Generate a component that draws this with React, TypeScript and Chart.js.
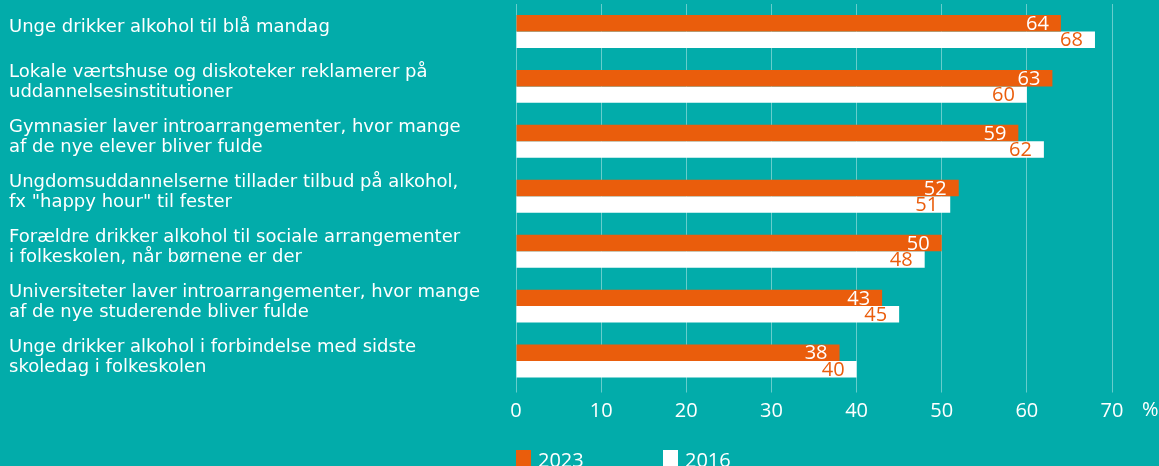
import React, { useEffect, useRef } from 'react';
import { Chart, registerables } from 'chart.js';

Chart.register(...registerables);

const categories: (string | string[])[] = [
  'Unge drikker alkohol til blå mandag',
  ['Lokale værtshuse og diskoteker reklamerer på', 'uddannelsesinstitutioner'],
  ['Gymnasier laver introarrangementer, hvor mange', 'af de nye elever bliver fulde'],
  ['Ungdomsuddannelserne tillader tilbud på alkohol,', 'fx "happy hour" til fester'],
  ['Forældre drikker alkohol til sociale arrangementer', 'i folkeskolen, når børnene er der'],
  ['Universiteter laver introarrangementer, hvor mange', 'af de nye studerende bliver fulde'],
  ['Unge drikker alkohol i forbindelse med sidste', 'skoledag i folkeskolen'],
];
const values2023 = [64, 63, 59, 52, 50, 43, 38];
const values2016 = [68, 60, 62, 51, 48, 45, 40];
const seriesLabels = ['2023', '2016'];
const xMin = 0;
const xMax = 70;
const xStep = 10;
const unitLabel = '%';

const TEAL = '#02ACAA';
const ORANGE = '#EA5D0C';
const WHITE = '#FFFFFF';
const LABEL_FONT = '"DejaVu Sans", sans-serif';
const NUM_FONT = '"Open Sans", sans-serif';

const valueLabels = {
  id: 'valueLabels',
  afterDatasetsDraw(chart: any) {
    const ctx = chart.ctx;
    chart.data.datasets.forEach((ds: any, i: number) => {
      const meta = chart.getDatasetMeta(i);
      meta.data.forEach((bar: any, j: number) => {
        ctx.save();
        ctx.font = `20px ${NUM_FONT}`;
        ctx.fillStyle = i === 0 ? WHITE : ORANGE;
        ctx.textAlign = 'right';
        ctx.textBaseline = 'middle';
        ctx.fillText(String(ds.data[j]), bar.x - 12, bar.y + 1);
        ctx.restore();
      });
    });
  },
};

const extras = {
  id: 'extras',
  beforeDraw(chart: any) {
    const ctx = chart.ctx;
    ctx.save();
    ctx.fillStyle = TEAL;
    ctx.fillRect(0, 0, chart.width, chart.height);
    ctx.restore();
  },
  afterDraw(chart: any) {
    const ctx = chart.ctx;
    const xs = chart.scales.x;
    ctx.save();
    ctx.font = `20px ${NUM_FONT}`;
    ctx.fillStyle = WHITE;
    ctx.textBaseline = 'middle';
    ctx.textAlign = 'left';
    ctx.fillText(unitLabel, xs.getPixelForValue(xMax) + 30, xs.top + 22);
    // legend
    const left = chart.chartArea.left;
    const gap = 147;
    chart.data.datasets.forEach((ds: any, i: number) => {
      const x = left + i * gap;
      ctx.fillStyle = ds.backgroundColor;
      ctx.fillRect(x, 450, 15, 16);
      ctx.fillStyle = WHITE;
      ctx.textBaseline = 'alphabetic';
      ctx.fillText(ds.label, x + 22, 467);
    });
    ctx.restore();
  },
};

export default function App() {
  const ref = useRef<HTMLCanvasElement>(null);
  useEffect(() => {
    if (!ref.current) return;
    const chart = new Chart(ref.current, {
      type: 'bar',
      data: {
        labels: categories as any,
        datasets: [
          { label: seriesLabels[0], data: values2023, backgroundColor: ORANGE, categoryPercentage: 0.6, barPercentage: 1 },
          { label: seriesLabels[1], data: values2016, backgroundColor: WHITE, categoryPercentage: 0.6, barPercentage: 1 },
        ],
      },
      options: {
        indexAxis: 'y',
        animation: false,
        responsive: true,
        maintainAspectRatio: false,
        layout: { padding: { left: 9, right: 47, top: 4, bottom: 44 } },
        plugins: { legend: { display: false }, tooltip: { enabled: false } },
        scales: {
          x: {
            min: xMin,
            max: xMax,
            afterFit(scale: any) { scale.height = 33.5; },
            ticks: { stepSize: xStep, color: WHITE, font: { family: NUM_FONT, size: 20 }, padding: 7 },
            grid: { color: 'rgba(255,255,255,0.4)', lineWidth: 1, tickLength: 4, drawTicks: true },
            border: { display: false },
          },
          y: {
            afterFit(scale: any) {
              scale.width = 507;
              scale.paddingTop = 0;
              scale.paddingBottom = 0;
            },
            ticks: { color: WHITE, font: { family: LABEL_FONT, size: 18, lineHeight: 1.11 }, crossAlign: 'far', labelOffset: -4, autoSkip: false },
            grid: { display: false },
            border: { display: false },
          },
        },
      },
      plugins: [extras, valueLabels],
    });
    return () => chart.destroy();
  }, []);
  return (
    <div style={{ position: 'fixed', left: 0, top: 0, width: 1159, height: 466, background: TEAL }}>
      <canvas ref={ref} />
    </div>
  );
}
